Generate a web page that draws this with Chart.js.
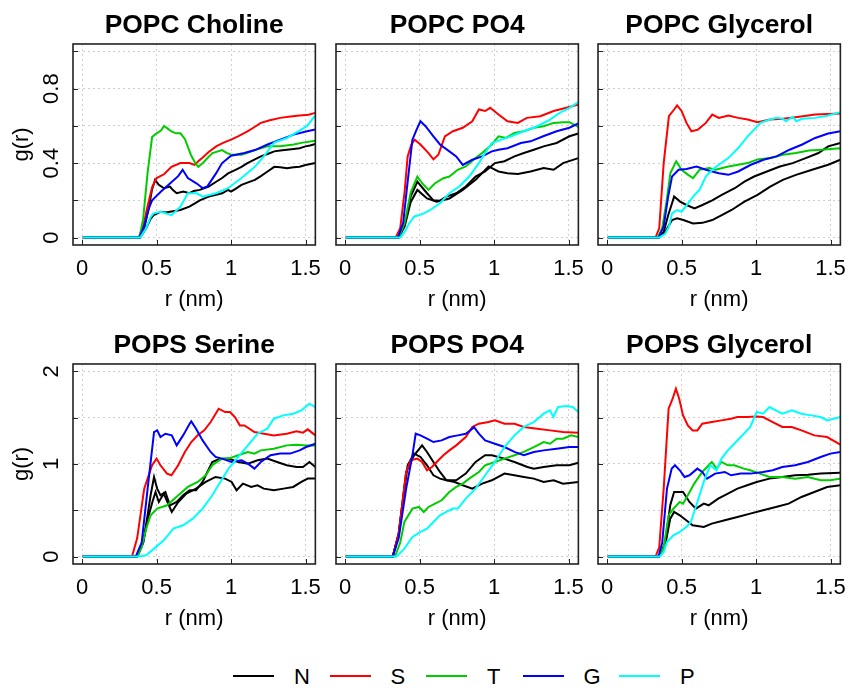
<!DOCTYPE html>
<html>
<head>
<meta charset="utf-8">
<script src="https://cdn.jsdelivr.net/npm/chart.js"></script>
<style>
  body { margin: 0; background: #fff; width: 857px; height: 688px; overflow: hidden; position: relative;
         font-family: 'Liberation Sans', Arial, sans-serif; }
  canvas.panel { position: absolute; }
  .leg { position: absolute; top: 664px; height: 26px; }
  .leg .ln { position: absolute; left: 0; top: 11px; width: 41px; height: 2px; }
  .leg .tx { position: absolute; left: 61px; top: 0; font-size: 22px; line-height: 26px; color: #000; }
</style>
</head>
<body>
<script>
// ---- data: [r (nm), g(r)] ----
const cholN1 = [[0.005,0],[0.385,0],[0.42,0.06],[0.45,0.17],[0.47,0.26],[0.49,0.31],[0.515,0.283],[0.55,0.265],[0.59,0.274],[0.61,0.255],[0.635,0.238],[0.68,0.247],[0.72,0.238],[0.75,0.25],[0.79,0.256],[0.85,0.274],[0.9,0.30],[0.94,0.32],[0.98,0.345],[1.03,0.364],[1.07,0.38],[1.11,0.40],[1.16,0.42],[1.2,0.436],[1.25,0.45],[1.29,0.463],[1.33,0.468],[1.375,0.472],[1.42,0.476],[1.46,0.48],[1.5,0.49],[1.53,0.495],[1.566,0.503]];
const cholN2 = [[0.005,0],[0.39,0],[0.43,0.05],[0.46,0.1],[0.48,0.12],[0.53,0.139],[0.56,0.135],[0.59,0.139],[0.66,0.148],[0.72,0.166],[0.76,0.185],[0.79,0.20],[0.85,0.22],[0.9,0.23],[0.94,0.238],[0.98,0.256],[1.0,0.247],[1.03,0.262],[1.07,0.283],[1.11,0.295],[1.16,0.31],[1.2,0.33],[1.245,0.355],[1.29,0.38],[1.33,0.378],[1.375,0.373],[1.42,0.378],[1.46,0.38],[1.5,0.39],[1.566,0.40]];
const cholS = [[0.005,0],[0.38,0],[0.41,0.06],[0.44,0.17],[0.47,0.27],[0.5,0.32],[0.55,0.34],[0.6,0.38],[0.66,0.40],[0.72,0.40],[0.755,0.39],[0.78,0.41],[0.81,0.43],[0.85,0.46],[0.9,0.49],[0.95,0.51],[1.0,0.526],[1.05,0.545],[1.11,0.57],[1.15,0.59],[1.2,0.616],[1.26,0.63],[1.33,0.643],[1.4,0.65],[1.46,0.656],[1.52,0.66],[1.566,0.67]];
const cholT = [[0.005,0],[0.385,0],[0.41,0.1],[0.44,0.35],[0.47,0.54],[0.5,0.56],[0.53,0.575],[0.55,0.60],[0.575,0.585],[0.6,0.57],[0.63,0.56],[0.66,0.56],[0.69,0.53],[0.73,0.445],[0.76,0.40],[0.78,0.38],[0.81,0.40],[0.845,0.43],[0.875,0.454],[0.94,0.47],[0.97,0.455],[1.0,0.445],[1.07,0.445],[1.11,0.455],[1.16,0.47],[1.2,0.48],[1.245,0.49],[1.33,0.49],[1.42,0.50],[1.48,0.51],[1.566,0.52]];
const cholG = [[0.005,0],[0.385,0],[0.42,0.07],[0.45,0.16],[0.47,0.20],[0.53,0.247],[0.59,0.29],[0.645,0.33],[0.675,0.364],[0.71,0.32],[0.77,0.29],[0.81,0.265],[0.84,0.274],[0.9,0.346],[0.94,0.40],[1.0,0.44],[1.09,0.454],[1.16,0.47],[1.245,0.50],[1.33,0.526],[1.42,0.553],[1.51,0.571],[1.566,0.58]];
const cholP = [[0.005,0],[0.39,0],[0.43,0.05],[0.46,0.11],[0.48,0.13],[0.53,0.139],[0.6,0.12],[0.66,0.166],[0.71,0.238],[0.77,0.238],[0.81,0.22],[0.9,0.238],[0.98,0.265],[1.07,0.32],[1.16,0.38],[1.22,0.436],[1.29,0.51],[1.375,0.535],[1.46,0.575],[1.51,0.6],[1.566,0.656]];

const pcpoN1 = [[0.005,0],[0.36,0],[0.4,0.07],[0.44,0.22],[0.485,0.30],[0.55,0.238],[0.593,0.20],[0.637,0.198],[0.68,0.22],[0.746,0.238],[0.81,0.274],[0.876,0.328],[0.94,0.355],[1.006,0.40],[1.07,0.41],[1.137,0.436],[1.2,0.454],[1.267,0.472],[1.333,0.49],[1.42,0.508],[1.506,0.544],[1.566,0.559]];
const pcpoN2 = [[0.005,0],[0.36,0],[0.4,0.06],[0.44,0.19],[0.485,0.256],[0.55,0.21],[0.615,0.193],[0.70,0.21],[0.79,0.256],[0.876,0.31],[0.963,0.382],[1.03,0.355],[1.09,0.346],[1.16,0.342],[1.245,0.355],[1.333,0.373],[1.4,0.364],[1.463,0.40],[1.566,0.427]];
const pcpoS = [[0.005,0],[0.34,0],[0.37,0.05],[0.4,0.25],[0.42,0.436],[0.445,0.50],[0.467,0.526],[0.506,0.50],[0.56,0.454],[0.593,0.42],[0.626,0.445],[0.67,0.544],[0.724,0.571],[0.79,0.59],[0.854,0.625],[0.898,0.688],[0.94,0.68],[0.974,0.697],[1.03,0.661],[1.09,0.625],[1.16,0.616],[1.22,0.643],[1.31,0.652],[1.4,0.68],[1.485,0.697],[1.566,0.715]];
const pcpoT = [[0.005,0],[0.36,0],[0.4,0.08],[0.44,0.24],[0.485,0.328],[0.517,0.292],[0.56,0.256],[0.604,0.292],[0.66,0.319],[0.70,0.328],[0.756,0.364],[0.81,0.382],[0.876,0.427],[0.92,0.454],[0.985,0.50],[1.03,0.544],[1.08,0.535],[1.137,0.562],[1.2,0.571],[1.267,0.59],[1.333,0.598],[1.4,0.616],[1.463,0.62],[1.506,0.62],[1.566,0.594]];
const pcpoG = [[0.005,0],[0.355,0],[0.39,0.08],[0.42,0.30],[0.452,0.526],[0.48,0.58],[0.506,0.625],[0.54,0.598],[0.593,0.544],[0.637,0.50],[0.70,0.463],[0.746,0.436],[0.79,0.39],[0.854,0.418],[0.92,0.436],[0.985,0.463],[1.03,0.472],[1.09,0.48],[1.18,0.508],[1.245,0.517],[1.33,0.544],[1.42,0.571],[1.506,0.59],[1.566,0.613]];
const pcpoP = [[0.005,0],[0.37,0],[0.4,0.03],[0.43,0.076],[0.463,0.112],[0.528,0.13],[0.572,0.148],[0.637,0.184],[0.70,0.238],[0.767,0.274],[0.833,0.328],[0.898,0.40],[0.94,0.454],[0.985,0.508],[1.05,0.526],[1.115,0.544],[1.2,0.571],[1.29,0.598],[1.376,0.634],[1.44,0.67],[1.506,0.697],[1.566,0.728]];

const pcglN1 = [[0.005,0],[0.345,0],[0.38,0.03],[0.41,0.12],[0.436,0.184],[0.45,0.22],[0.49,0.193],[0.533,0.175],[0.587,0.157],[0.64,0.175],[0.706,0.20],[0.77,0.229],[0.857,0.265],[0.922,0.30],[0.987,0.328],[1.073,0.355],[1.16,0.382],[1.246,0.40],[1.333,0.427],[1.419,0.454],[1.484,0.49],[1.566,0.508]];
const pcglN2 = [[0.005,0],[0.35,0],[0.39,0.03],[0.436,0.094],[0.47,0.103],[0.512,0.094],[0.577,0.076],[0.64,0.079],[0.706,0.094],[0.77,0.12],[0.836,0.148],[0.922,0.193],[1.01,0.229],[1.095,0.274],[1.18,0.31],[1.268,0.337],[1.376,0.364],[1.484,0.391],[1.566,0.418]];
const pcglS = [[0.005,0],[0.325,0],[0.35,0.05],[0.38,0.40],[0.415,0.652],[0.45,0.688],[0.47,0.71],[0.50,0.68],[0.533,0.616],[0.566,0.571],[0.61,0.58],[0.663,0.616],[0.706,0.661],[0.75,0.643],[0.814,0.656],[0.88,0.643],[0.944,0.634],[1.01,0.62],[1.095,0.634],[1.18,0.638],[1.29,0.649],[1.397,0.661],[1.566,0.667]];
const pcglT = [[0.005,0],[0.34,0],[0.37,0.05],[0.40,0.2],[0.425,0.346],[0.464,0.41],[0.50,0.364],[0.544,0.337],[0.577,0.319],[0.62,0.364],[0.685,0.373],[0.728,0.364],[0.814,0.382],[0.88,0.391],[0.944,0.40],[1.01,0.42],[1.095,0.427],[1.18,0.445],[1.268,0.454],[1.354,0.468],[1.44,0.472],[1.566,0.48]];
const pcglG = [[0.005,0],[0.345,0],[0.38,0.06],[0.41,0.22],[0.436,0.328],[0.48,0.364],[0.533,0.368],[0.6,0.382],[0.663,0.364],[0.75,0.346],[0.814,0.337],[0.88,0.355],[0.965,0.391],[1.05,0.418],[1.138,0.436],[1.225,0.472],[1.31,0.50],[1.397,0.535],[1.484,0.559],[1.566,0.571]];
const pcglP = [[0.005,0],[0.35,0],[0.39,0.02],[0.415,0.058],[0.436,0.13],[0.47,0.148],[0.50,0.139],[0.544,0.184],[0.587,0.229],[0.62,0.256],[0.663,0.328],[0.706,0.364],[0.75,0.391],[0.814,0.427],[0.88,0.481],[0.944,0.544],[0.987,0.58],[1.03,0.616],[1.095,0.634],[1.138,0.643],[1.18,0.638],[1.2,0.625],[1.246,0.649],[1.27,0.625],[1.31,0.638],[1.397,0.643],[1.484,0.656],[1.566,0.674]];

const serN1 = [[0.005,0],[0.37,0],[0.41,0.15],[0.44,0.45],[0.46,0.662],[0.483,0.86],[0.504,0.734],[0.526,0.662],[0.559,0.698],[0.59,0.554],[0.635,0.59],[0.678,0.662],[0.722,0.716],[0.765,0.716],[0.809,0.806],[0.841,0.914],[0.874,1.022],[0.917,1.05],[0.983,1.058],[1.048,1.022],[1.113,1.004],[1.178,1.04],[1.243,1.058],[1.309,1.022],[1.374,0.986],[1.44,0.968],[1.483,0.968],[1.526,1.022],[1.566,0.968]];
const serN2 = [[0.005,0],[0.37,0],[0.41,0.15],[0.44,0.4],[0.472,0.59],[0.493,0.698],[0.515,0.59],[0.548,0.68],[0.602,0.482],[0.646,0.59],[0.70,0.68],[0.765,0.734],[0.83,0.806],[0.896,0.86],[0.96,0.842],[1.004,0.806],[1.037,0.716],[1.08,0.788],[1.135,0.752],[1.178,0.77],[1.22,0.734],[1.287,0.716],[1.352,0.734],[1.417,0.752],[1.472,0.806],[1.515,0.842],[1.566,0.842]];
const serS = [[0.005,0],[0.335,0],[0.37,0.2],[0.417,0.734],[0.47,0.986],[0.50,1.058],[0.526,0.986],[0.57,0.896],[0.60,0.878],[0.645,0.986],[0.69,1.13],[0.733,1.237],[0.776,1.31],[0.82,1.363],[0.863,1.453],[0.917,1.597],[0.96,1.561],[0.993,1.561],[1.026,1.507],[1.059,1.417],[1.09,1.417],[1.157,1.345],[1.222,1.327],[1.287,1.309],[1.374,1.327],[1.44,1.353],[1.483,1.338],[1.515,1.374],[1.566,1.309]];
const serT = [[0.005,0],[0.37,0],[0.4,0.1],[0.43,0.3],[0.46,0.446],[0.504,0.518],[0.57,0.554],[0.646,0.662],[0.71,0.752],[0.776,0.806],[0.83,0.878],[0.874,0.986],[0.939,1.058],[0.983,1.058],[1.048,1.094],[1.113,1.13],[1.157,1.112],[1.2,1.147],[1.287,1.165],[1.374,1.201],[1.44,1.209],[1.504,1.201],[1.566,1.201]];
const serG = [[0.005,0],[0.36,0],[0.4,0.15],[0.44,0.734],[0.483,1.345],[0.504,1.363],[0.526,1.291],[0.559,1.327],[0.602,1.309],[0.635,1.201],[0.678,1.309],[0.722,1.435],[0.733,1.46],[0.765,1.381],[0.809,1.255],[0.863,1.13],[0.896,1.076],[0.939,1.058],[1.004,1.022],[1.07,1.04],[1.113,1.004],[1.157,0.95],[1.2,1.022],[1.265,1.094],[1.33,1.112],[1.396,1.112],[1.46,1.147],[1.504,1.183],[1.566,1.219]];
const serP = [[0.005,0],[0.375,0],[0.43,0.014],[0.483,0.086],[0.548,0.176],[0.613,0.302],[0.678,0.338],[0.743,0.41],[0.809,0.518],[0.874,0.662],[0.928,0.806],[0.983,0.95],[1.048,1.076],[1.113,1.201],[1.178,1.327],[1.243,1.381],[1.287,1.489],[1.352,1.525],[1.417,1.543],[1.472,1.579],[1.526,1.651],[1.566,1.615]];

const pspoN1 = [[0.005,0],[0.32,0],[0.36,0.25],[0.41,0.914],[0.463,1.094],[0.517,1.201],[0.55,1.13],[0.593,1.022],[0.637,0.914],[0.68,0.824],[0.746,0.824],[0.81,0.896],[0.876,1.022],[0.94,1.094],[0.985,1.094],[1.07,1.058],[1.137,1.022],[1.224,0.968],[1.267,0.95],[1.333,0.968],[1.42,0.986],[1.506,0.986],[1.566,1.014]];
const pspoN2 = [[0.005,0],[0.32,0],[0.36,0.25],[0.42,0.986],[0.463,1.112],[0.506,1.076],[0.55,0.986],[0.593,0.878],[0.637,0.842],[0.68,0.824],[0.735,0.806],[0.79,0.77],[0.854,0.734],[0.92,0.788],[0.985,0.824],[1.07,0.896],[1.137,0.878],[1.2,0.86],[1.267,0.842],[1.333,0.806],[1.4,0.824],[1.463,0.788],[1.566,0.806]];
const pspoS = [[0.005,0],[0.32,0],[0.36,0.25],[0.41,0.914],[0.44,1.04],[0.485,1.058],[0.517,1.022],[0.55,0.932],[0.583,0.968],[0.615,1.022],[0.66,1.094],[0.70,1.147],[0.746,1.201],[0.81,1.291],[0.854,1.40],[0.898,1.435],[0.963,1.453],[1.006,1.471],[1.07,1.435],[1.137,1.435],[1.2,1.40],[1.29,1.381],[1.376,1.363],[1.463,1.345],[1.566,1.338]];
const pspoT = [[0.005,0],[0.335,0],[0.37,0.15],[0.398,0.374],[0.452,0.518],[0.496,0.536],[0.528,0.482],[0.56,0.536],[0.604,0.572],[0.648,0.608],[0.70,0.698],[0.746,0.752],[0.79,0.788],[0.833,0.842],[0.898,0.914],[0.94,0.986],[1.006,1.022],[1.07,1.058],[1.137,1.094],[1.2,1.13],[1.267,1.183],[1.333,1.237],[1.376,1.219],[1.42,1.273],[1.463,1.273],[1.517,1.309],[1.566,1.291]];
const pspoG = [[0.005,0],[0.32,0],[0.36,0.2],[0.41,0.734],[0.452,1.094],[0.474,1.327],[0.506,1.309],[0.55,1.273],[0.593,1.237],[0.648,1.255],[0.70,1.291],[0.757,1.309],[0.81,1.327],[0.854,1.381],[0.865,1.40],[0.898,1.327],[0.94,1.255],[1.006,1.219],[1.07,1.183],[1.137,1.13],[1.2,1.094],[1.267,1.13],[1.333,1.147],[1.42,1.165],[1.506,1.183],[1.566,1.183]];
const pspoP = [[0.005,0],[0.345,0],[0.398,0.086],[0.452,0.212],[0.506,0.266],[0.55,0.302],[0.593,0.374],[0.637,0.446],[0.68,0.482],[0.724,0.518],[0.757,0.518],[0.81,0.626],[0.876,0.734],[0.94,0.878],[1.006,1.022],[1.07,1.183],[1.137,1.309],[1.2,1.40],[1.267,1.453],[1.333,1.543],[1.376,1.579],[1.398,1.507],[1.43,1.615],[1.485,1.626],[1.528,1.615],[1.566,1.561]];

const psglN1 = [[0.005,0],[0.35,0],[0.39,0.15],[0.424,0.554],[0.45,0.698],[0.51,0.698],[0.553,0.59],[0.596,0.518],[0.649,0.572],[0.682,0.554],[0.746,0.626],[0.811,0.68],[0.875,0.734],[0.94,0.77],[1.004,0.806],[1.09,0.842],[1.176,0.86],[1.262,0.878],[1.348,0.885],[1.434,0.896],[1.566,0.906]];
const psglN2 = [[0.005,0],[0.35,0],[0.39,0.12],[0.424,0.41],[0.45,0.482],[0.488,0.446],[0.531,0.392],[0.574,0.338],[0.649,0.32],[0.703,0.356],[0.79,0.392],[0.875,0.428],[0.961,0.464],[1.047,0.5],[1.133,0.536],[1.219,0.572],[1.305,0.644],[1.391,0.698],[1.477,0.752],[1.566,0.77]];
const psglS = [[0.005,0],[0.325,0],[0.35,0.1],[0.38,0.734],[0.413,1.597],[0.44,1.705],[0.462,1.813],[0.484,1.705],[0.51,1.525],[0.542,1.417],[0.574,1.363],[0.606,1.363],[0.639,1.435],[0.703,1.453],[0.768,1.471],[0.832,1.489],[0.875,1.507],[0.94,1.507],[1.004,1.514],[1.047,1.507],[1.112,1.453],[1.176,1.40],[1.24,1.40],[1.305,1.363],[1.391,1.309],[1.477,1.291],[1.566,1.21]];
const psglT = [[0.005,0],[0.35,0],[0.38,0.1],[0.413,0.446],[0.445,0.518],[0.488,0.59],[0.51,0.572],[0.542,0.662],[0.585,0.788],[0.639,0.914],[0.682,0.986],[0.703,1.022],[0.735,0.95],[0.768,1.022],[0.811,0.986],[0.854,0.986],[0.918,0.95],[0.961,0.932],[1.026,0.896],[1.09,0.86],[1.176,0.86],[1.262,0.842],[1.348,0.86],[1.434,0.824],[1.499,0.824],[1.566,0.842]];
const psglG = [[0.005,0],[0.345,0],[0.37,0.15],[0.402,0.734],[0.434,0.95],[0.456,0.986],[0.488,0.932],[0.52,0.86],[0.553,0.878],[0.606,0.95],[0.639,0.914],[0.671,0.842],[0.725,0.896],[0.79,0.914],[0.832,0.878],[0.897,0.896],[0.961,0.896],[1.047,0.914],[1.112,0.932],[1.176,0.968],[1.262,0.986],[1.348,1.022],[1.434,1.076],[1.499,1.112],[1.566,1.13]];
const psglP = [[0.005,0],[0.355,0],[0.38,0.05],[0.402,0.158],[0.445,0.23],[0.488,0.266],[0.531,0.32],[0.563,0.374],[0.606,0.59],[0.649,0.806],[0.692,0.986],[0.735,0.932],[0.768,1.058],[0.811,1.147],[0.865,1.237],[0.918,1.327],[0.961,1.40],[1.004,1.561],[1.047,1.543],[1.09,1.615],[1.133,1.579],[1.176,1.543],[1.24,1.579],[1.305,1.543],[1.37,1.525],[1.434,1.507],[1.477,1.471],[1.566,1.507]];

const panelTitles = ['POPC Choline', 'POPC PO4', 'POPC Glycerol', 'POPS Serine', 'POPS PO4', 'POPS Glycerol'];
const panelSeries = [
  [cholN1, cholN2, cholS, cholT, cholG, cholP],
  [pcpoN1, pcpoN2, pcpoS, pcpoT, pcpoG, pcpoP],
  [pcglN1, pcglN2, pcglS, pcglT, pcglG, pcglP],
  [serN1, serN2, serS, serT, serG, serP],
  [pspoN1, pspoN2, pspoS, pspoT, pspoG, pspoP],
  [psglN1, psglN2, psglS, psglT, psglG, psglP]
];
const seriesNames = ['N', 'N', 'S', 'T', 'G', 'P'];
const seriesColors = ['#000000', '#000000', '#ff0000', '#00cd00', '#0000ff', '#00ffff'];
const legendNames = ['N', 'S', 'T', 'G', 'P'];
const legendColors = ['#000000', '#ff0000', '#00cd00', '#0000ff', '#00ffff'];

const xTicks = [0, 0.5, 1, 1.5];
const xRange = [-0.061, 1.566];
const yTicksTop = [0, 0.2, 0.4, 0.6, 0.8, 1.0];
const yLabelsTop = [0, 0.4, 0.8];
const yRangeTop = [-0.04, 1.04];
const yTicksBottom = [0, 0.5, 1, 1.5, 2];
const yLabelsBottom = [0, 1, 2];
const yRangeBottom = [-0.08, 2.08];

// ---- layout ----
const FONT = "'Liberation Sans', Arial, sans-serif";
const plotLefts = [73, 336, 598];
const rowTops = [0, 320];
const rowHeights = [315, 314];
const YAXIS_W = 73, XAXIS_H = 70, CANVAS_W = 332;

Chart.defaults.color = '#000';
Chart.defaults.font.family = FONT;
Chart.defaults.font.size = 22;

const measure = document.createElement('canvas').getContext('2d');
measure.font = '22px ' + FONT;
function widest(labels) {
  return Math.max(...labels.map(v => measure.measureText(String(v)).width));
}

// box round the plot plus short inward tick marks, as in base R
const framePlugin = {
  id: 'frame',
  afterDatasetsDraw(chart) {
    const { ctx, chartArea: a, scales } = chart;
    ctx.save();
    ctx.strokeStyle = '#222';
    ctx.lineWidth = 1;
    ctx.beginPath();
    scales.x.ticks.forEach(t => {
      const px = Math.round(scales.x.getPixelForValue(t.value)) + 0.5;
      ctx.moveTo(px, a.bottom); ctx.lineTo(px, a.bottom - 5);
    });
    scales.y.ticks.forEach(t => {
      const py = Math.round(scales.y.getPixelForValue(t.value)) + 0.5;
      ctx.moveTo(a.left, py); ctx.lineTo(a.left + 5, py);
    });
    ctx.stroke();
    ctx.lineWidth = 1.6;
    ctx.strokeRect(a.left, a.top, a.right - a.left, a.bottom - a.top);
    ctx.restore();
  }
};

panelTitles.forEach((title, i) => {
  const row = Math.floor(i / 3), col = i % 3;
  const cv = document.createElement('canvas');
  cv.className = 'panel';
  cv.width = CANVAS_W;
  cv.height = rowHeights[row];
  cv.style.left = (plotLefts[col] - YAXIS_W) + 'px';
  cv.style.top = rowTops[row] + 'px';
  document.body.appendChild(cv);

  const yTicks = row === 0 ? yTicksTop : yTicksBottom;
  const yLabels = row === 0 ? yLabelsTop : yLabelsBottom;
  const yRange = row === 0 ? yRangeTop : yRangeBottom;
  const showY = col === 0;
  const yPad = YAXIS_W - 51.5 - widest(yLabels) / 2;

  const datasets = panelSeries[i].map((pts, k) => ({
    label: seriesNames[k],
    data: pts.map(p => ({ x: p[0], y: p[1] })),
    borderColor: seriesColors[k],
    borderWidth: 2,
    pointRadius: 0,
    tension: 0,
    fill: false,
    order: 5 - k
  }));

  new Chart(cv, {
    type: 'line',
    data: { datasets },
    plugins: [framePlugin],
    options: {
      responsive: false,
      animation: false,
      events: [],
      layout: { padding: { left: 0, right: 10, top: 0, bottom: 0 } },
      plugins: {
        legend: { display: false },
        tooltip: { enabled: false },
        title: {
          display: true, text: title, fullSize: false,
          font: { size: 26.4, weight: 'bold', family: FONT },
          padding: { top: 10, bottom: 2.3 }
        }
      },
      scales: {
        x: {
          type: 'linear', min: xRange[0], max: xRange[1],
          afterBuildTicks: s => { s.ticks = xTicks.map(v => ({ value: v })); },
          afterFit: s => { s.height = XAXIS_H; },
          ticks: { autoSkip: false, maxRotation: 0, padding: 10.5, callback: v => String(v) },
          grid: { color: '#cfcfcf', lineWidth: 1, drawTicks: false },
          border: { display: false, dash: [2, 3] },
          title: { display: true, text: 'r (nm)', padding: { top: 0, bottom: 2 } }
        },
        y: {
          type: 'linear', min: yRange[0], max: yRange[1],
          afterBuildTicks: s => { s.ticks = yTicks.map(v => ({ value: v })); },
          afterFit: s => { s.width = YAXIS_W; },
          ticks: {
            display: showY, autoSkip: false, minRotation: 90, maxRotation: 90,
            crossAlign: 'center', padding: yPad,
            callback: v => (yLabels.includes(v) ? String(v) : '')
          },
          grid: { color: '#cfcfcf', lineWidth: 1, drawTicks: false },
          border: { display: false, dash: [2, 3] },
          title: { display: showY, text: 'g(r)', padding: { top: 9, bottom: 0 } }
        }
      }
    }
  });
});

// legend along the bottom, equally spaced like the R legend
legendNames.forEach((name, i) => {
  const item = document.createElement('div');
  item.className = 'leg';
  item.style.left = (233 + 96.5 * i) + 'px';
  item.innerHTML = '<div class="ln" style="background:' + legendColors[i] + '"></div><div class="tx">' + name + '</div>';
  document.body.appendChild(item);
});
</script>
</body>
</html>
